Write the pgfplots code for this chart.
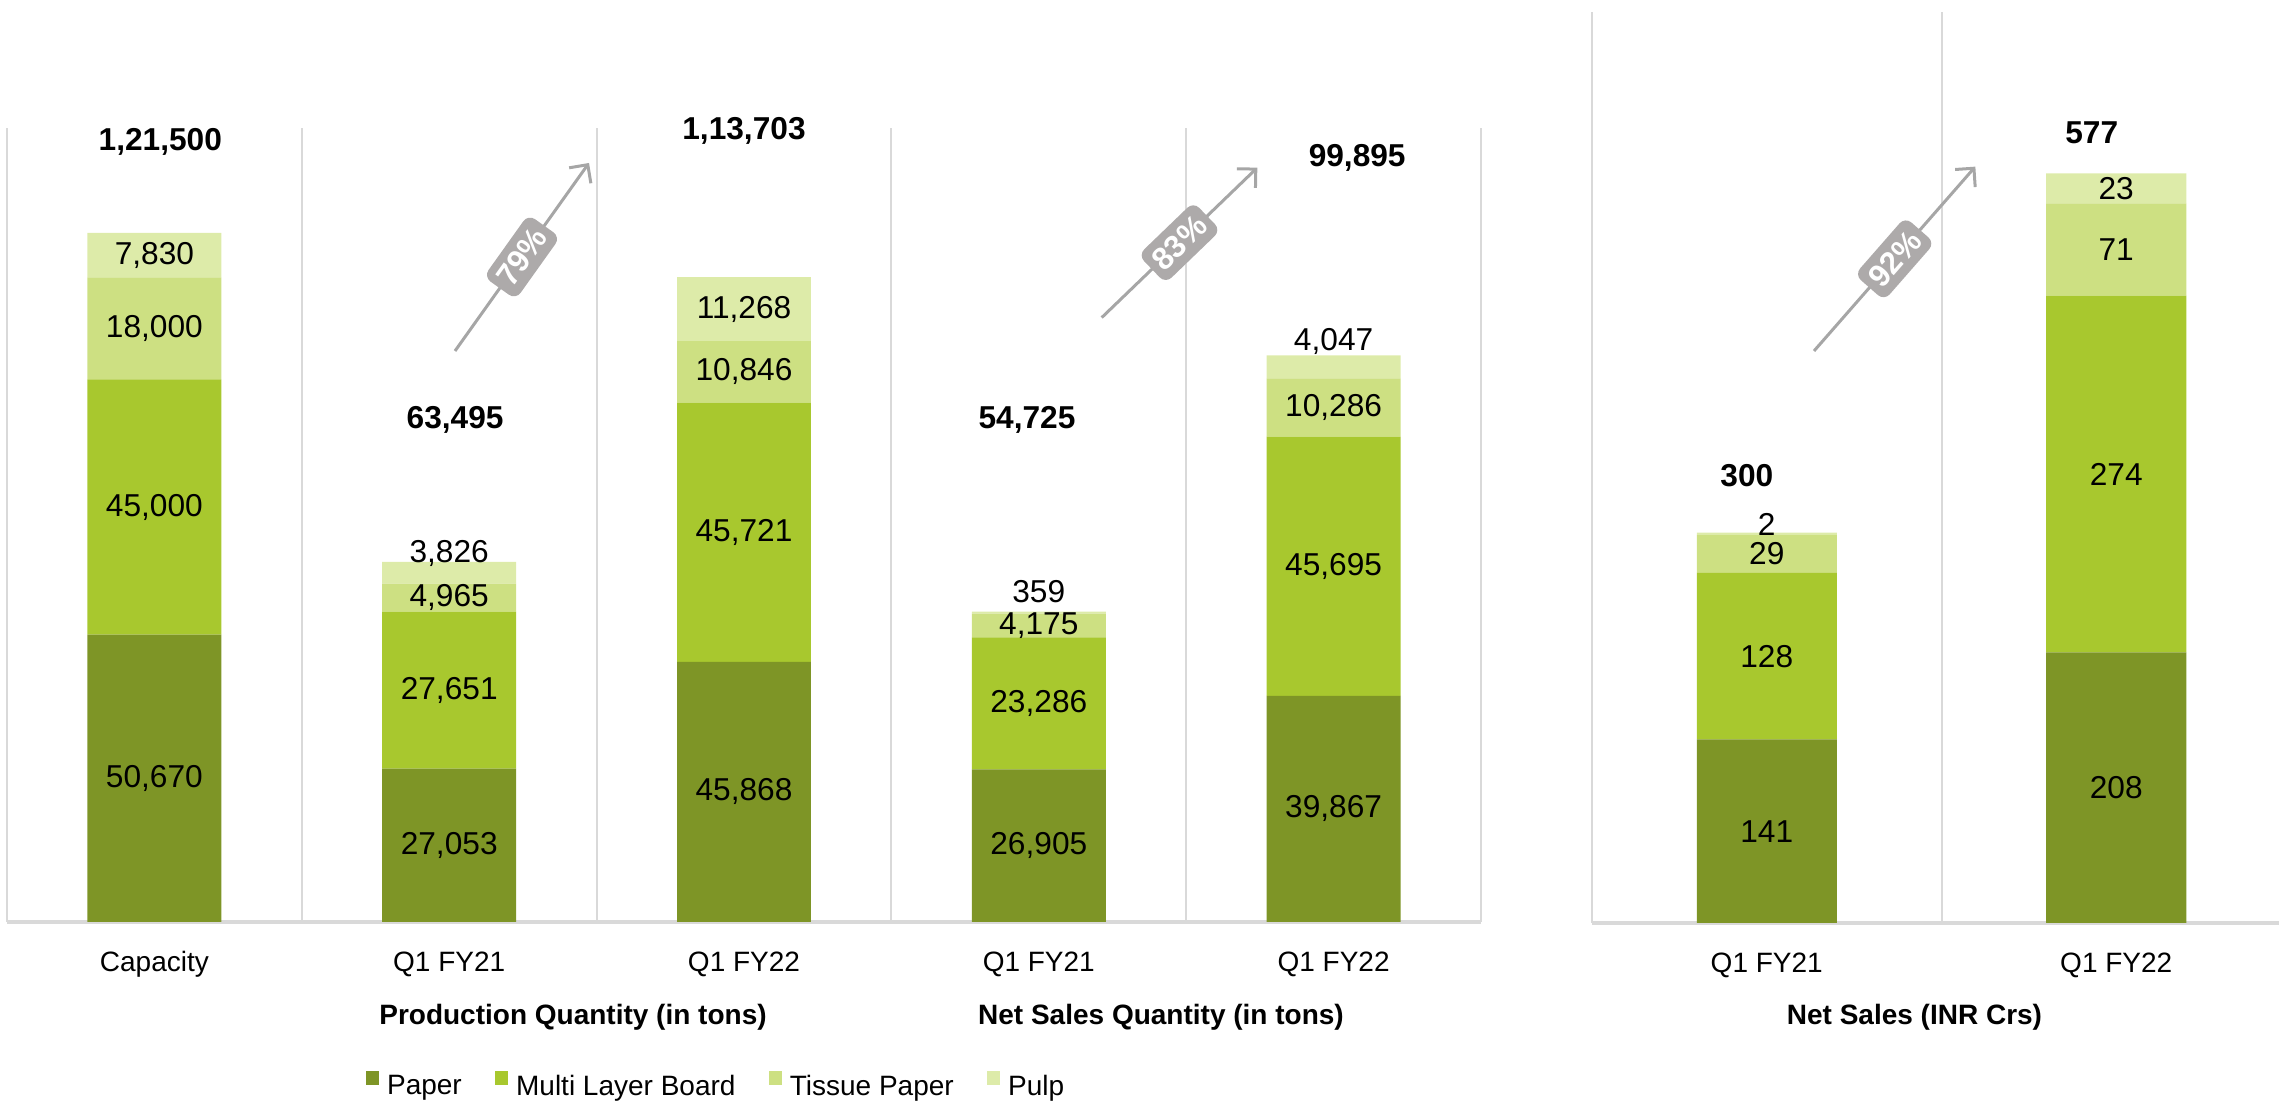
\documentclass[border=0pt]{standalone}
\usepackage{pgfplots}
\pgfplotsset{compat=1.18}
\usetikzlibrary{arrows.meta}
\usepackage{fontspec}
\setmainfont{Liberation Sans}
\definecolor{cPaper}{HTML}{7E9526}
\definecolor{cMLB}{HTML}{A8C82E}
\definecolor{cTissue}{HTML}{CDE082}
\definecolor{cPulp}{HTML}{DDEBA9}
\definecolor{gridc}{HTML}{D9D9D9}
\definecolor{arrowc}{HTML}{A6A6A6}
\definecolor{boxc}{HTML}{ADAAAA}
\newcommand\fv{\fontsize{9.5}{11}\selectfont}
\newcommand\ft{\bfseries\fontsize{9.5}{11}\selectfont}
\newcommand\fl{\fontsize{8.4}{10}\selectfont}
\newcommand\fp{\bfseries\fontsize{9.4}{10}\selectfont}
\begin{document}
\begin{tikzpicture}
\useasboundingbox (0pt,0pt) rectangle (683.7pt,330.9pt);
\pgfplotsset{mybase/.style={
  scale only axis, anchor=south west, ybar stacked, ymin=0,
  axis x line=bottom, axis y line=none,
  axis line style={-, draw=gridc, line width=1pt},
  major tick length=0pt, minor tick length=0pt,
  xminorgrids=true, xmajorgrids=false,
  minor grid style={draw=gridc, line width=0.6pt},
  xticklabel style={font=\fl, anchor=base, yshift=-14.85pt},
  clip=false,
  every axis plot/.append style={draw=none},
}}
% ---------------- left chart ----------------
\begin{axis}[mybase,
  at={(2.1pt,54.3pt)}, width=442.2pt, height=238.2pt,
  xmin=-0.5, xmax=4.5, ymax=140000,
  bar width=0.4545,
  xtick={0,1,2,3,4},
  xticklabels={Capacity, Q1 FY21, Q1 FY22, Q1 FY21, Q1 FY22},
  minor xtick={-0.5,0.5,1.5,2.5,3.5,4.5},
  legend style={at={(axis description cs:0.2436,-0.206)}, anchor=west,
    draw=none, fill=none, inner sep=0pt, outer sep=0pt,
    legend columns=4, font=\fl, nodes={inner sep=0pt},
    /tikz/every odd column/.append style={column sep=2.4pt},
    /tikz/every even column/.append style={column sep=10pt}},
  legend image code/.code={\fill[#1] (0pt,0.9pt) rectangle (3.9pt,5.1pt);},
]
\addplot[fill=cPaper] coordinates {(0,50670) (1,27053) (2,45868) (3,26905) (4,39867)};
\addplot[fill=cMLB] coordinates {(0,45000) (1,27651) (2,45721) (3,23286) (4,45695)};
\addplot[fill=cTissue] coordinates {(0,18000) (1,4965) (2,10846) (3,4175) (4,10286)};
\addplot[fill=cPulp] coordinates {(0,7830) (1,3826) (2,11268) (3,359) (4,4047)};
\legend{Paper, Multi Layer Board, Tissue Paper, Pulp}
% segment label anchors
\coordinate (L01) at (axis cs:0,25335);
\coordinate (L02) at (axis cs:0,73170);
\coordinate (L03) at (axis cs:0,104670);
\coordinate (L04) at (axis cs:0,117585);
\coordinate (L11) at (axis cs:1,13526);
\coordinate (L12) at (axis cs:1,40878);
\coordinate (L13) at (axis cs:1,57186);
\coordinate (L14) at (axis cs:1,65033);
\coordinate (L21) at (axis cs:2,22934);
\coordinate (L22) at (axis cs:2,68728);
\coordinate (L23) at (axis cs:2,97012);
\coordinate (L24) at (axis cs:2,108069);
\coordinate (L31) at (axis cs:3,13452);
\coordinate (L32) at (axis cs:3,38548);
\coordinate (L33) at (axis cs:3,52278);
\coordinate (L34) at (axis cs:3,58170);
\coordinate (L41) at (axis cs:4,19933);
\coordinate (L42) at (axis cs:4,62714);
\coordinate (L43) at (axis cs:4,90705);
\coordinate (L44) at (axis cs:4,102300);
\coordinate (T0) at (axis cs:0.02,137470);
\coordinate (T1) at (axis cs:1.02,88470);
\coordinate (T2) at (axis cs:2.0,139440);
\coordinate (T3) at (axis cs:2.96,88470);
\coordinate (T4) at (axis cs:4.08,134800);
\end{axis}
% ---------------- right chart ----------------
\begin{axis}[mybase,
  at={(477.6pt,54pt)}, width=206.1pt, height=273.3pt,
  xmin=-0.5, xmax=1.4657, ymax=700,
  bar width=0.4006,
  xtick={0,1},
  xticklabels={Q1 FY21, Q1 FY22},
  minor xtick={-0.5,0.5},
]
\addplot[fill=cPaper] coordinates {(0,141) (1,208)};
\addplot[fill=cMLB] coordinates {(0,128) (1,274)};
\addplot[fill=cTissue] coordinates {(0,29) (1,71)};
\addplot[fill=cPulp] coordinates {(0,2) (1,23)};
\coordinate (R01) at (axis cs:0,70.5);
\coordinate (R02) at (axis cs:0,205);
\coordinate (R03) at (axis cs:0,283.5);
\coordinate (R04) at (axis cs:0,306);
\coordinate (R11) at (axis cs:1,104);
\coordinate (R12) at (axis cs:1,345);
\coordinate (R13) at (axis cs:1,517.5);
\coordinate (R14) at (axis cs:1,564.5);
\coordinate (RT0) at (axis cs:-0.057,344);
\coordinate (RT1) at (axis cs:0.93,607.5);
\end{axis}
% value labels
\begin{scope}[every node/.style={font=\fv}]
\node at (L01) {50,670}; \node at (L02) {45,000}; \node at (L03) {18,000}; \node at (L04) {7,830};
\node at (L11) {27,053}; \node at (L12) {27,651}; \node at (L13) {4,965}; \node at (L14) {3,826};
\node at (L21) {45,868}; \node at (L22) {45,721}; \node at (L23) {10,846}; \node at (L24) {11,268};
\node at (L31) {26,905}; \node at (L32) {23,286}; \node at (L33) {4,175}; \node at (L34) {359};
\node at (L41) {39,867}; \node at (L42) {45,695}; \node at (L43) {10,286}; \node at (L44) {4,047};
\node at (R01) {141}; \node at (R02) {128}; \node at (R03) {29}; \node at (R04) {2};
\node at (R11) {208}; \node at (R12) {274}; \node at (R13) {71}; \node at (R14) {23};
\end{scope}
\begin{scope}[every node/.style={font=\ft}]
\node at (T0) {1,21,500}; \node at (T1) {63,495}; \node at (T2) {1,13,703};
\node at (T3) {54,725}; \node at (T4) {99,895};
\node at (RT0) {300}; \node at (RT1) {577};
\end{scope}
% group titles
\node[font=\bfseries\fl, anchor=base] at (171.9pt,23.4pt) {Production Quantity (in tons)};
\node[font=\bfseries\fl, anchor=base] at (348.3pt,23.4pt) {Net Sales Quantity (in tons)};
\node[font=\bfseries\fl, anchor=base] at (574.35pt,23.4pt) {Net Sales (INR Crs)};
% growth arrows
\tikzset{garrow/.style={draw=arrowc, line width=0.9pt, -{Straight Barb[length=4pt,width=8pt]}},
  pbox/.style={midway, sloped, fill=boxc, text=white, rounded corners=2.5pt, font=\fp,
    minimum height=11.8pt, minimum width=23pt, inner xsep=2pt, inner ysep=1pt}}
\draw[garrow] (136.5pt,225.6pt) -- (176.7pt,282pt) node[pbox] {79\%};
\draw[garrow] (330.5pt,235.6pt) -- (377.2pt,280.6pt) node[pbox] {83\%};
\draw[garrow] (544.2pt,225.6pt) -- (592.6pt,280.9pt) node[pbox] {92\%};
\end{tikzpicture}
\end{document}
